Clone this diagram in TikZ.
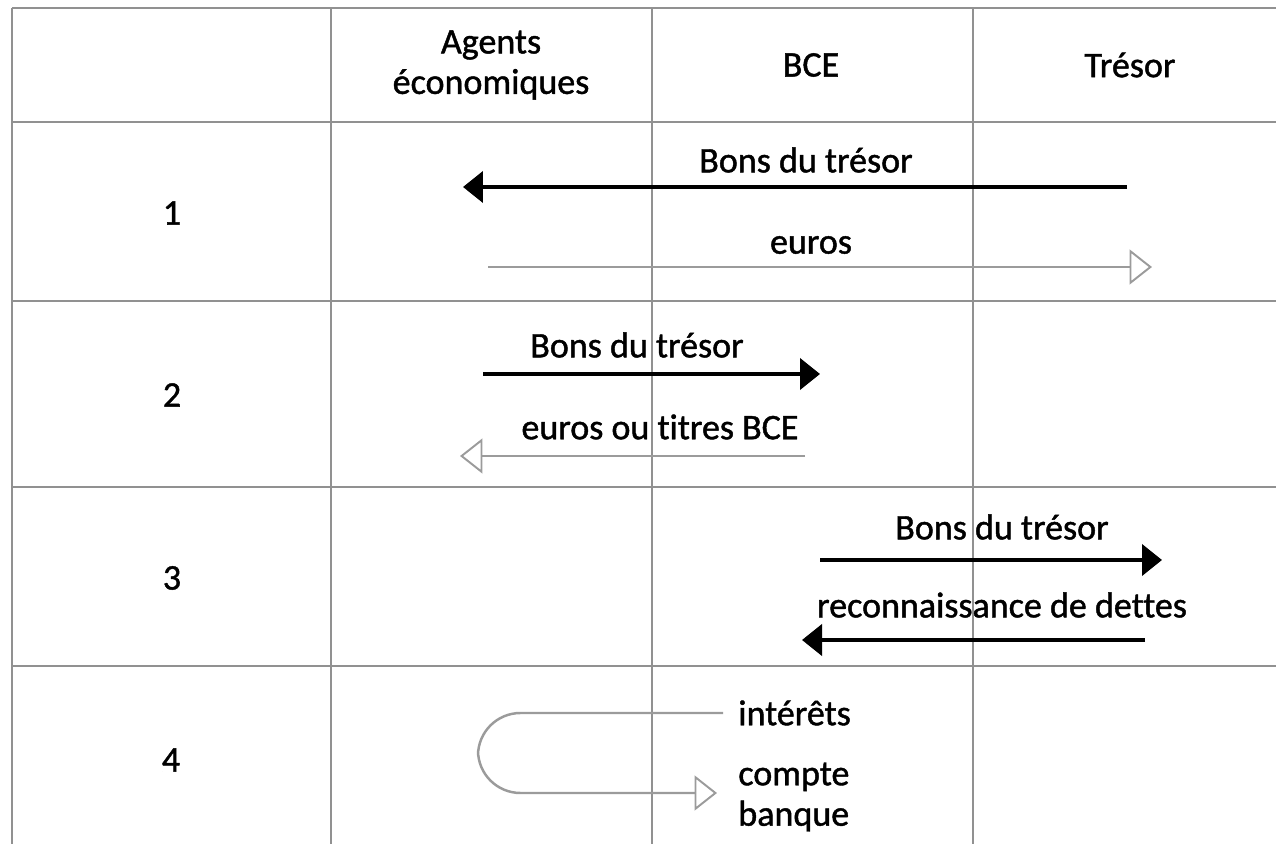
\documentclass[tikz,border=0pt]{standalone}
\usepackage{fontspec}
\setmainfont{Carlito}[Ligatures=NoCommon, FakeBold=1.2]
\usetikzlibrary{arrows.meta}
\definecolor{gridgray}{RGB}{145,145,145}
\definecolor{flowgray}{RGB}{155,155,155}

\begin{document}
\begin{tikzpicture}[x=0.02cm,y=-0.02cm,
    every node/.style={font=\fontsize{20.5}{23}\selectfont, inner sep=0pt},
    titres/.style={draw=black, line width=2.3pt, -{Triangle[length=0.4cm,width=0.62cm]}},
    monnaie/.style={draw=flowgray, line width=1.4pt, -{Triangle[open,length=0.45cm,width=0.7cm,fill=white,line width=1.1pt]}}]

        \useasboundingbox (0,0) rectangle (1276,844);

        % grille du tableau
        \begin{scope}[draw=gridgray, line width=1.6pt]
          \draw (12,8) -- (1276,8);
          \draw (12,122) -- (1276,122);
          \draw (12,301) -- (1276,301);
          \draw (12,487) -- (1276,487);
          \draw (12,666) -- (1276,666);
          \draw (12,8) -- (12,844);
          \draw (331,8) -- (331,844);
          \draw (652,8) -- (652,844);
          \draw (973,8) -- (973,844);
        \end{scope}

        % en-tetes et numeros de ligne
        \node[align=center] (agents) at (491,65) {Agents\\économiques};
        \node (bce)    at (811,65)  {BCE};
        \node (tresor) at (1130,65) {Trésor};
        \node (r1) at (172,213) {1};
        \node (r2) at (172,395) {2};
        \node (r3) at (172,578) {3};
        \node (r4) at (171,760) {4};

        % extremites des fleches
        \coordinate (a1) at (1127,187);
        \coordinate (b1) at (463,187);
        \coordinate (a2) at (488,267);
        \coordinate (b2) at (1152,267);
        \coordinate (a3) at (483,374);
        \coordinate (b3) at (820,374);
        \coordinate (a4) at (805,456);
        \coordinate (b4) at (460,456);
        \coordinate (a5) at (820,560);
        \coordinate (b5) at (1162,560);
        \coordinate (a6) at (1145,640);
        \coordinate (b6) at (802,640);
        \coordinate (a7) at (723,713);
        \coordinate (b7) at (717,793);

        % etiquettes
        \node (l1) at (806,160) {Bons du trésor};
        \node (l2) at (811,245) {euros};
        \node (l3) at (637,345) {Bons du trésor};
        \node (l4) at (660,427) {euros ou titres BCE};
        \node (l5) at (1002,527) {Bons du trésor};
        \node (l6) at (1002,605) {reconnaissance de dettes};
        \node[anchor=west] (l7) at (738,713) {intérêts};
        \node[anchor=west, align=left] (l8) at (738,797) {compte\\banque};

        % flux
        \path (a1) edge[titres] (b1);
        \path (a2) edge[monnaie] (b2);
        \path (a3) edge[titres] (b3);
        \path (a4) edge[monnaie] (b4);
        \path (a5) edge[titres] (b5);
        \path (a6) edge[titres] (b6);
        \draw[monnaie, rounded corners=0.85cm] (a7) -- (478,713) -- (478,793) -- (b7);

      \end{tikzpicture}
\end{document}
